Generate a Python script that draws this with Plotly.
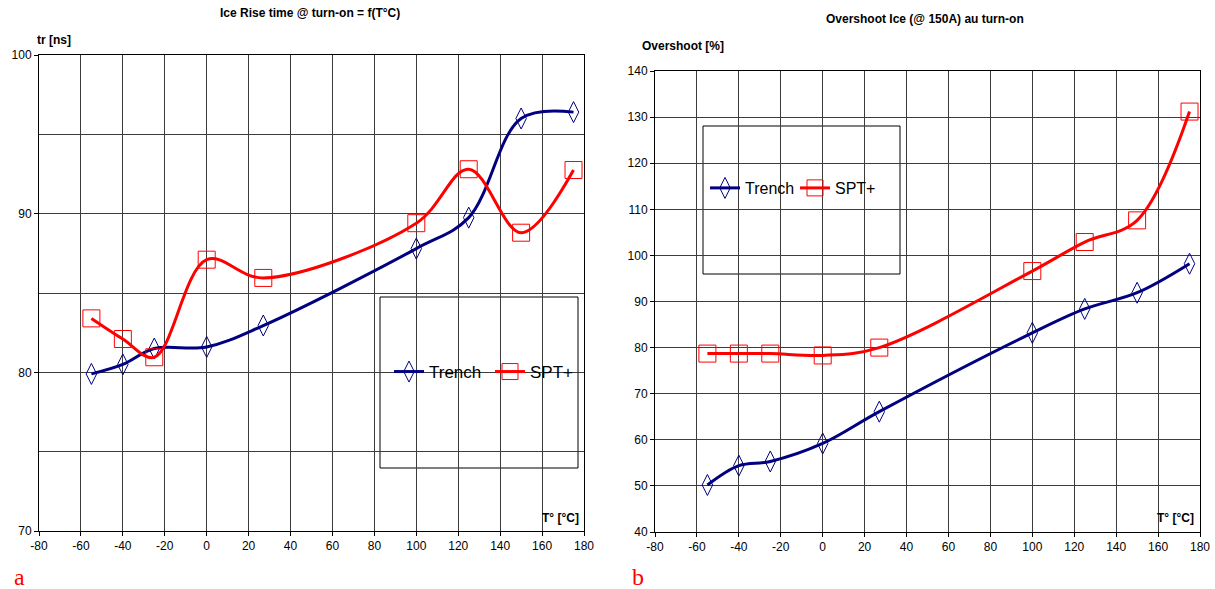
import plotly.graph_objects as go

# ---------------- data ----------------
temps = [-55, -40, -25, 0, 27, 100, 125, 150, 175]

rise_trench = [79.9, 80.5, 81.5, 81.6, 82.95, 87.8, 89.75, 96.0, 96.4]
rise_spt = [83.4, 82.1, 80.95, 87.1, 85.95, 89.4, 92.8, 88.8, 92.75]

over_trench = [50.2, 54.4, 55.3, 59.2, 66.1, 83.2, 88.4, 91.9, 98.2]
over_spt = [78.7, 78.7, 78.7, 78.3, 80.0, 96.6, 102.9, 107.6, 131.2]

x_ticks = list(range(-80, 181, 20))
x_tick_labels = [str(v) for v in x_ticks]

NAVY = "#000080"
RED = "#FF0000"
FONT = "Liberation Sans Narrow, Arial Narrow, Liberation Sans, Arial, sans-serif"
GRID = "#3c3c3c"

W, H = 1215, 589


def px_x(p):
    return p / W


def px_y(p):
    return 1 - p / H


fig = go.Figure()

def add_series(x, y, name, color, symbol, size, xa, ya, leg):
    fig.add_trace(go.Scatter(
        x=x, y=y, name=name, mode="lines+markers",
        line=dict(color=color, width=3, shape="spline", smoothing=1.0),
        marker=dict(symbol=symbol, size=size, color=color, line=dict(width=1, color=color)),
        xaxis=xa, yaxis=ya, legend=leg))

add_series(temps, rise_trench, "Trench", NAVY, "diamond-tall-open", 15, "x", "y", "legend")
add_series(temps, rise_spt, "SPT+", RED, "square-open", 17, "x", "y", "legend")
add_series(temps, over_trench, "Trench", NAVY, "diamond-tall-open", 15, "x2", "y2", "legend2")
add_series(temps, over_spt, "SPT+", RED, "square-open", 17, "x2", "y2", "legend2")

axis_common = dict(
    showline=True, linecolor="black", linewidth=1, mirror=True,
    showgrid=True, gridcolor=GRID, gridwidth=1,
    ticks="outside", ticklen=4, tickcolor="black",
    tickfont=dict(family=FONT, size=12, color="black"),
    zeroline=False,
)

fig.update_layout(
    width=W, height=H,
    margin=dict(l=0, r=0, t=0, b=0, autoexpand=False),
    paper_bgcolor="white", plot_bgcolor="white",
    xaxis=dict(domain=[px_x(39), px_x(584)], range=[-80, 180], tickvals=x_ticks,
               ticktext=x_tick_labels, anchor="y", **axis_common),
    yaxis=dict(domain=[px_y(531), px_y(55)], range=[70, 100], dtick=10,
               minor=dict(dtick=5, showgrid=True, gridcolor=GRID, gridwidth=1, ticks=""),
               anchor="x", **axis_common),
    xaxis2=dict(domain=[px_x(655), px_x(1200)], range=[-80, 180], tickvals=x_ticks,
                ticktext=x_tick_labels, anchor="y2", **axis_common),
    yaxis2=dict(domain=[px_y(532), px_y(71)], range=[40, 140], dtick=10,
                anchor="x2", **axis_common),
    legend=dict(x=px_x(389), y=px_y(372), xanchor="left", yanchor="middle",
                orientation="h", bgcolor="rgba(0,0,0,0)", borderwidth=0,
                font=dict(family=FONT, size=17, color="black"), itemwidth=30,
                entrywidth=56, entrywidthmode="pixels"),
    legend2=dict(x=px_x(705), y=px_y(188), xanchor="left", yanchor="middle",
                 orientation="h", bgcolor="rgba(0,0,0,0)", borderwidth=0,
                 font=dict(family=FONT, size=16, color="black"), itemwidth=30,
                 entrywidth=45, entrywidthmode="pixels"),
    showlegend=True,
)

# legend boxes
fig.add_shape(type="rect", xref="paper", yref="paper",
              x0=px_x(380), x1=px_x(578), y0=px_y(468), y1=px_y(297),
              line=dict(color="black", width=1), fillcolor="white", layer="between")
fig.add_shape(type="rect", xref="paper", yref="paper",
              x0=px_x(703), x1=px_x(900), y0=px_y(274), y1=px_y(126),
              line=dict(color="black", width=1), fillcolor="white", layer="between")

small_bold = dict(family=FONT, size=12, color="black")
title_font = dict(family=FONT, size=12, color="black")
serif_red = dict(family="Liberation Serif, Times New Roman, serif", size=24, color="#FF0000")
ann = [
    dict(text="<b>Ice Rise time @ turn-on = f(T°C)</b>", x=px_x(310), y=px_y(13), font=title_font,
         xanchor="center", yanchor="middle"),
    dict(text="<b>Overshoot Ice (@ 150A) au turn-on</b>", x=px_x(925), y=px_y(19), font=title_font,
         xanchor="center", yanchor="middle"),
    dict(text="<b>tr [ns]</b>", x=px_x(35), y=px_y(40), font=small_bold,
         xanchor="left", yanchor="middle"),
    dict(text="<b>Overshoot [%]</b>", x=px_x(640), y=px_y(46), font=small_bold,
         xanchor="left", yanchor="middle"),
    dict(text="<b>T° [°C]</b>", x=px_x(581), y=px_y(518), font=small_bold,
         xanchor="right", yanchor="middle"),
    dict(text="<b>T° [°C]</b>", x=px_x(1196), y=px_y(518), font=small_bold,
         xanchor="right", yanchor="middle"),
    dict(text="a", x=px_x(12), y=px_y(577), font=serif_red, xanchor="left", yanchor="middle"),
    dict(text="b", x=px_x(630), y=px_y(577), font=serif_red, xanchor="left", yanchor="middle"),
]
for a in ann:
    fig.add_annotation(xref="paper", yref="paper", showarrow=False, **a)

fig.write_html("out.html", config={"displayModeBar": False},
               post_script="document.body.style.margin='0px';")
